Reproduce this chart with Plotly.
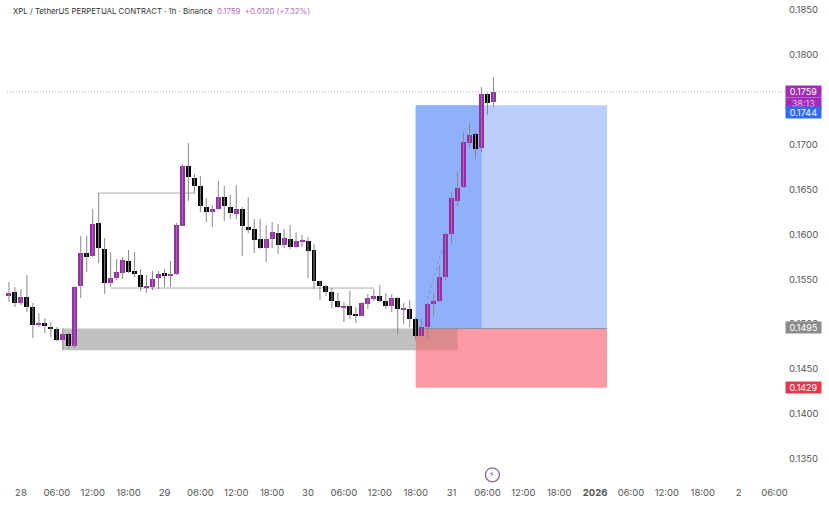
import pandas as pd
import plotly.graph_objects as go

# hourly candles, first one is 27 Dec 22:00
start = "2025-12-27 22:00"

opens = [0.15313, 0.15357, 0.15235, 0.15302, 0.15190, 0.14989, 0.15012, 0.14967, 0.14945, 0.14822, 0.14889, 0.14755,
         0.15424, 0.15792, 0.15759, 0.16127, 0.15837, 0.15458, 0.15513, 0.15569, 0.15703, 0.15591, 0.15547, 0.15413,
         0.15413, 0.15513, 0.15569, 0.15547, 0.15558, 0.16093, 0.16762, 0.16628, 0.16539, 0.16305, 0.16249, 0.16283,
         0.16416, 0.16305, 0.16227, 0.16283, 0.16082, 0.16060, 0.15948, 0.15848, 0.15948, 0.16015, 0.15881, 0.15948,
         0.15859, 0.15926, 0.15926, 0.15826, 0.15480, 0.15424, 0.15357, 0.15257, 0.15190, 0.15201, 0.15112, 0.15090,
         0.15223, 0.15279, 0.15313, 0.15257, 0.15201, 0.15290, 0.15168, 0.15168, 0.15056, 0.14867, 0.14967, 0.15223,
         0.15257, 0.15525, 0.16004, 0.16372, 0.16528, 0.17019, 0.17119, 0.16963, 0.17565, 0.17476]
highs = [0.15469, 0.15413, 0.15391, 0.15547, 0.15235, 0.15123, 0.15067, 0.15023, 0.14967, 0.14956, 0.14900, 0.15424,
         0.15982, 0.15982, 0.16283, 0.16461, 0.15959, 0.15803, 0.15725, 0.15747, 0.15826, 0.15803, 0.15614, 0.15547,
         0.15591, 0.15591, 0.15614, 0.15703, 0.16127, 0.16784, 0.17019, 0.16673, 0.16651, 0.16405, 0.16327, 0.16595,
         0.16539, 0.16439, 0.16550, 0.16305, 0.16416, 0.16171, 0.16171, 0.16104, 0.16138, 0.16115, 0.16060, 0.16104,
         0.16026, 0.15993, 0.15970, 0.15892, 0.15480, 0.15435, 0.15402, 0.15346, 0.15246, 0.15368, 0.15190, 0.15246,
         0.15335, 0.15391, 0.15435, 0.15346, 0.15335, 0.15302, 0.15235, 0.15268, 0.15078, 0.15067, 0.15235, 0.15346,
         0.15658, 0.16015, 0.16472, 0.16695, 0.17130, 0.17242, 0.17152, 0.17643, 0.17576, 0.17754]
lows = [0.15246, 0.15190, 0.15212, 0.15134, 0.14844, 0.14967, 0.14900, 0.14855, 0.14811, 0.14711, 0.14722, 0.14733,
        0.15290, 0.15580, 0.15747, 0.15680, 0.15335, 0.15413, 0.15491, 0.15502, 0.15569, 0.15525, 0.15368, 0.15346,
        0.15380, 0.15391, 0.15413, 0.15413, 0.15547, 0.16093, 0.16372, 0.16461, 0.16249, 0.16138, 0.16082, 0.16272,
        0.16149, 0.16171, 0.16171, 0.15759, 0.16015, 0.15792, 0.15837, 0.15692, 0.15848, 0.15781, 0.15848, 0.15837,
        0.15848, 0.15859, 0.15513, 0.15391, 0.15268, 0.15313, 0.15179, 0.15179, 0.15023, 0.15056, 0.15012, 0.15090,
        0.15168, 0.15257, 0.15246, 0.15168, 0.15134, 0.14889, 0.15000, 0.14967, 0.14822, 0.14855, 0.14833, 0.15090,
        0.15246, 0.15491, 0.15904, 0.16316, 0.16517, 0.16963, 0.16840, 0.16918, 0.17331, 0.17420]
closes = [0.15346, 0.15235, 0.15302, 0.15190, 0.14989, 0.15012, 0.14978, 0.14956, 0.14822, 0.14889, 0.14755, 0.15413,
          0.15792, 0.15747, 0.16115, 0.15848, 0.15458, 0.15513, 0.15580, 0.15714, 0.15580, 0.15558, 0.15413, 0.15424,
          0.15502, 0.15558, 0.15536, 0.15558, 0.16104, 0.16762, 0.16639, 0.16539, 0.16316, 0.16249, 0.16283, 0.16416,
          0.16316, 0.16238, 0.16283, 0.16093, 0.16060, 0.15937, 0.15848, 0.15948, 0.16026, 0.15881, 0.15959, 0.15859,
          0.15926, 0.15937, 0.15814, 0.15480, 0.15424, 0.15357, 0.15257, 0.15190, 0.15201, 0.15101, 0.15101, 0.15235,
          0.15290, 0.15313, 0.15257, 0.15201, 0.15290, 0.15168, 0.15179, 0.15056, 0.14867, 0.14967, 0.15223, 0.15257,
          0.15525, 0.16004, 0.16405, 0.16517, 0.17030, 0.17108, 0.16952, 0.17565, 0.17465, 0.17587]

times = pd.date_range(start, periods=len(opens), freq="h")

price_ticks = [0.185, 0.18, 0.17, 0.165, 0.16, 0.155, 0.15, 0.145, 0.14, 0.135]
time_ticks = ["2025-12-28 00:00", "2025-12-28 06:00", "2025-12-28 12:00", "2025-12-28 18:00",
              "2025-12-29 00:00", "2025-12-29 06:00", "2025-12-29 12:00", "2025-12-29 18:00",
              "2025-12-30 00:00", "2025-12-30 06:00", "2025-12-30 12:00", "2025-12-30 18:00",
              "2025-12-31 00:00", "2025-12-31 06:00", "2025-12-31 12:00", "2025-12-31 18:00",
              "2026-01-01 00:00", "2026-01-01 06:00", "2026-01-01 12:00", "2026-01-01 18:00",
              "2026-01-02 00:00", "2026-01-02 06:00"]
time_labels = ["28", "06:00", "12:00", "18:00", "29", "06:00", "12:00", "18:00", "30", "06:00", "12:00", "18:00",
               "31", "06:00", "12:00", "18:00", "<b>2026</b>", "06:00", "12:00", "18:00", "2", "06:00"]

last_price = 0.1759
entry = 0.1495
target = 0.1744
stop = 0.1429
zone_low = 0.1471

UP = "#9c27b0"
DOWN = "#000000"
FONT = "Inter"

colors = [UP if c >= o else DOWN for o, c in zip(opens, closes)]
wick_x, wick_y = [], []
for t, h, l in zip(times, highs, lows):
    wick_x += [t, t, None]
    wick_y += [l, h, None]

wicks = go.Scatter(x=wick_x, y=wick_y, mode="lines", line=dict(color="#8c8590", width=1), hoverinfo="skip")
bodies = go.Bar(x=times, y=[abs(c - o) for o, c in zip(opens, closes)], base=[min(o, c) for o, c in zip(opens, closes)],
                width=3000000, marker=dict(color=colors, line=dict(width=0)))
# faint dotted trend next to the last leg up
trend = go.Scatter(x=["2025-12-30 20:00", "2025-12-30 23:00"], y=[0.1528, 0.1597], mode="lines",
                   line=dict(color="rgba(120,120,150,0.5)", width=1, dash="dot"), hoverinfo="skip")
bolt = go.Scatter(x=["2025-12-31 06:50"], y=[0.1332], mode="markers+text", text=["⚡\ufe0e"], textposition="middle center",
                  textfont=dict(size=8, color="#7b4f8e"), cliponaxis=False,
                  marker=dict(symbol="circle-open", size=14, color="#8a6a9c", line=dict(width=1.3)), hoverinfo="skip")

shapes = [
    dict(type="rect", x0="2025-12-30 18:00", x1="2026-01-01 02:00", y0=entry, y1=target,
         fillcolor="#bccffc", line_width=0, layer="below"),
    dict(type="rect", x0="2025-12-30 18:00", x1="2025-12-31 05:00", y0=entry, y1=target,
         fillcolor="#8fb0fb", line_width=0, layer="below"),
    dict(type="rect", x0="2025-12-30 18:00", x1="2026-01-01 02:00", y0=stop, y1=entry,
         fillcolor="#fb9aa5", line_width=0, layer="below"),
    dict(type="rect", x0="2025-12-28 07:00", x1="2025-12-30 18:00", y0=zone_low, y1=entry,
         fillcolor="#c0c0c0", line_width=0, layer="below"),
    dict(type="rect", x0="2025-12-30 18:00", x1="2025-12-31 01:00", y0=zone_low, y1=entry,
         fillcolor="#dd8a8c", line_width=0, layer="below"),
    dict(type="line", x0="2025-12-30 18:00", x1="2026-01-01 02:00", y0=entry, y1=entry,
         line=dict(color="#8a8f9c", width=1), layer="below"),
    dict(type="line", x0="2025-12-28 13:00", x1="2025-12-29 05:00", y0=0.16461, y1=0.16461,
         line=dict(color="#a8a8a8", width=1), layer="below"),
    dict(type="line", x0="2025-12-28 15:00", x1="2025-12-30 11:00", y0=0.15402, y1=0.15402,
         line=dict(color="#b0b0b0", width=1), layer="below"),
    dict(type="line", x0="2025-12-27 21:40", x1="2026-01-02 07:45", y0=last_price, y1=last_price,
         line=dict(color="#c7a8d0", width=1, dash="1px,2px"), layer="below"),
]

def price_label(text, y, bg, yshift=0, color="white", height=11):
    return dict(xref="paper", x=1, xanchor="left", yref="y", y=y, yanchor="middle", yshift=yshift, text=text,
                showarrow=False, bgcolor=bg, width=35, height=height, align="center", borderpad=0,
                font=dict(family=FONT, size=9, color=color))

annotations = [
    price_label("38:13", last_price, "#a22cb8", yshift=-11, color="#e3b8ec", height=10),
    price_label(f"{last_price:.4f}", last_price, "#a22cb8"),
    price_label(f"{target:.4f}", target, "#2f6bf0", yshift=-7),
    price_label(f"{entry:.4f}", entry, "#8b8b8b", yshift=1),
    price_label(f"{stop:.4f}", stop, "#e8364d"),
    dict(xref="paper", x=0, xshift=11, xanchor="left", yref="paper", y=1, yshift=-4, yanchor="top", showarrow=False,
         text="XPL / TetherUS PERPETUAL CONTRACT · 1h · Binance  "
              "<span style='color:#b06cc0'>0.1759  +0.0120 (+7.32%)</span>",
         font=dict(family=FONT, size=7.8, color="#333333")),
]

layout = go.Layout(
    width=829, height=513, margin=dict(l=0, r=44, t=0, b=30), paper_bgcolor="white", plot_bgcolor="white",
    showlegend=False, bargap=0, barmode="overlay", shapes=shapes, annotations=annotations,
    font=dict(family=FONT, size=9, color="#555555"),
    xaxis=dict(type="date", range=["2025-12-27 20:30", "2026-01-02 07:45"], tickvals=time_ticks, ticktext=time_labels,
               showgrid=False, zeroline=False, showline=False, ticks="", tickangle=0, tickfont=dict(size=9.5),
               ticklabelstandoff=2),
    yaxis=dict(side="right", range=[0.13229, 0.18613], tickvals=price_ticks, tickformat=".4f", showgrid=False,
               zeroline=False, showline=False, ticks="outside", ticklen=1, tickcolor="rgba(0,0,0,0)",
               tickfont=dict(size=9.5)),
)

fig = go.Figure(data=[wicks, bodies, trend, bolt], layout=layout)
fig.write_html("out.html", config=dict(displayModeBar=False), post_script="document.body.style.margin='0';")
